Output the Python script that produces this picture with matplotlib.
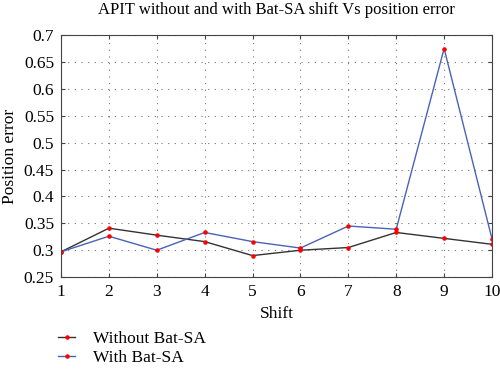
import matplotlib
matplotlib.use("Agg")
import matplotlib.pyplot as plt

shift = [1, 2, 3, 4, 5, 6, 7, 8, 9, 10]
without_bat = [0.297, 0.341, 0.328, 0.316, 0.290, 0.300, 0.305, 0.333, 0.322, 0.311]
with_bat = [0.297, 0.326, 0.300, 0.333, 0.316, 0.304, 0.345, 0.339, 0.675, 0.321]
yticks = [0.25, 0.3, 0.35, 0.4, 0.45, 0.5, 0.55, 0.6, 0.65, 0.7]
ytick_labels = ["0.25", "0.3", "0.35", "0.4", "0.45", "0.5", "0.55", "0.6", "0.65", "0.7"]

plt.rcParams['font.family'] = ['Liberation Serif', 'DejaVu Serif']

fig = plt.figure(figsize=(5, 3.69), dpi=100)
ax = fig.add_axes([0.122, 0.249, 0.862, 0.656])

l1, = ax.plot(shift, without_bat, color="#333333", lw=1.0, marker=".", ms=4.5,
              mfc="red", mec="red", label="Without Bat-SA")
l2, = ax.plot(shift, with_bat, color="#4a62b8", lw=1.0, marker=".", ms=4.5,
              mfc="red", mec="red", label="With Bat-SA")

ax.set_xlim(1, 10)
ax.set_ylim(0.25, 0.7)
ax.set_xticks(shift)
ax.set_yticks(yticks)
ax.set_yticklabels(ytick_labels)
ax.tick_params(labelsize=12.5, direction="in", length=3, color="#444444",
               top=True, right=True, pad=5)
ax.grid(True, linestyle=(0, (1, 5)), color="#777777", lw=0.8)
for s in ax.spines.values():
    s.set_color("#444444")

ax.set_title("APIT without and with Bat-SA shift Vs position error", fontsize=12, pad=15)
ax.set_ylabel("Position error", fontsize=12.5)
ax.set_xlabel("Shift", fontsize=12.5, labelpad=4)

fig.legend(handles=[l1, l2], loc="upper left", bbox_to_anchor=(0.085, 0.145),
           frameon=False, fontsize=12.5, handlelength=1.0, handletextpad=1.0,
           labelspacing=0.15)

fig.savefig("out.png", dpi=100)
